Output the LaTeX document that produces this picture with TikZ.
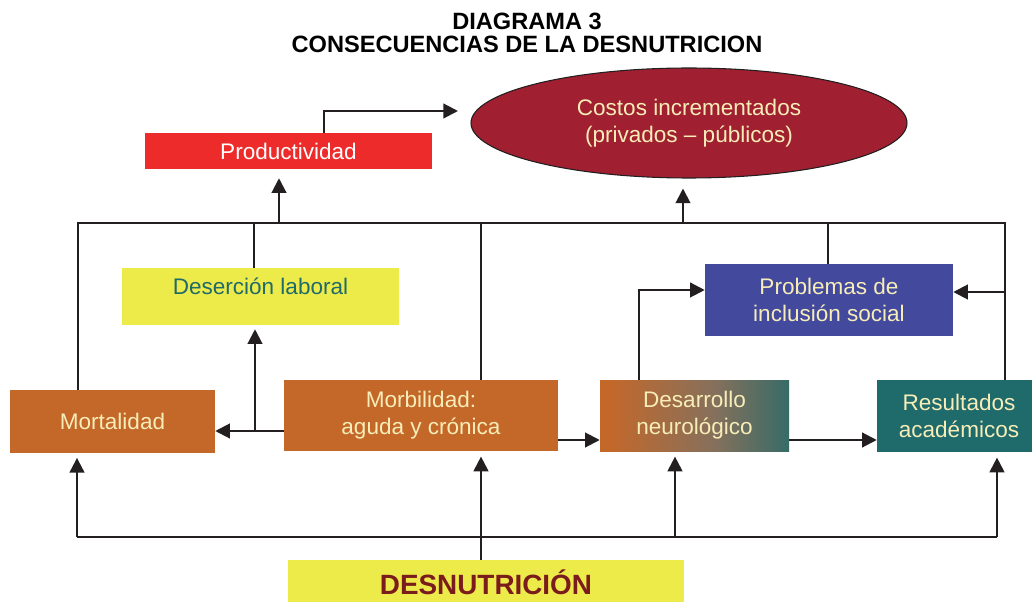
\documentclass[tikz,border=0pt]{standalone}
\usepackage{fontspec}
\setmainfont{Liberation Sans}
\usetikzlibrary{arrows.meta,shapes.geometric}
\definecolor{orangeC}{HTML}{C4682A}
\definecolor{tealC}{HTML}{1F6A6A}
\definecolor{blueC}{HTML}{434A9E}
\definecolor{redC}{HTML}{EE2B2B}
\definecolor{wineC}{HTML}{A01F30}
\definecolor{yellowC}{HTML}{EDEB4A}
\definecolor{creamC}{HTML}{F7EDB8}
\definecolor{desnC}{HTML}{7A1C1C}
\definecolor{lineC}{HTML}{231F20}
\definecolor{midC}{HTML}{86705C}
\pgfdeclarehorizontalshading{desgrad}{100bp}{color(0bp)=(orangeC); color(27bp)=(orangeC); color(55bp)=(midC); color(81bp)=(tealC); color(100bp)=(tealC)}
\tikzset{
  box/.style={rectangle, inner sep=0pt, draw=none, align=center, text=creamC,
    font=\fontsize{16.9}{20.3}\selectfont},
  arr/.style={draw=lineC, line width=1.6pt, -{Triangle[length=11pt,width=11pt]}},
  ln/.style={draw=lineC, line width=1.6pt},
}
\begin{document}
\begin{tikzpicture}[x=0.75pt,y=-0.75pt]
\useasboundingbox (0,0) rectangle (1032,602);
% title
\node[align=center, font=\fontsize{17.7}{16.8}\selectfont\bfseries] (title) at (527,33)
  {DIAGRAMA 3\\CONSECUENCIAS DE LA DESNUTRICION};
% boxes
\node[box, fill=redC, text=white, minimum width=287*0.75pt, minimum height=36*0.75pt] (prod) at (288.5,151) {Productividad};
\node[ellipse, draw=lineC, line width=0.8pt, fill=wineC, inner sep=0pt, align=center, text=creamC,
  font=\fontsize{16.9}{20.3}\selectfont, minimum width=436*0.75pt, minimum height=110*0.75pt] (cost) at (689,123)
  {Costos incrementados\\(privados – públicos)};
\node[box, fill=yellowC, minimum width=277*0.75pt, minimum height=57*0.75pt] (des) at (260.5,296.5) {};
\node[anchor=base, text=tealC, font=\fontsize{16.9}{20.3}\selectfont] (destext) at (260.5,295) {Deserción laboral};
\node[box, fill=blueC, minimum width=248*0.75pt, minimum height=72*0.75pt] (prob) at (829,300) {Problemas de\\inclusión social};
\node[box, fill=orangeC, minimum width=205*0.75pt, minimum height=63*0.75pt] (mort) at (112.5,421.5) {Mortalidad};
\node[box, fill=orangeC, minimum width=274*0.75pt, minimum height=71*0.75pt] (morb) at (421,415.5) {Morbilidad:\\aguda y crónica};
\node[box, shading=desgrad, minimum width=189*0.75pt, minimum height=71*0.75pt] (desa) at (694.5,415.5) {Desarrollo\\neurológico};
\node[box, fill=tealC, minimum width=164*0.75pt, minimum height=72*0.75pt] (res) at (959,416) {Resultados\\académicos};
\node[box, fill=yellowC, text=desnC, font=\fontsize{20.9}{24}\selectfont\bfseries, minimum width=396*0.75pt, minimum height=44*0.75pt] (desn) at (486,582) {DESNUTRICIÓN};
% connectors
\coordinate (busL) at (78,223);
\coordinate (busR) at (1005,223);
\coordinate (ctip) at (458,111);
\draw[arr] (324,0 |- prod.north) |- (ctip);
\draw[ln] (mort.north -| busL) -- (busL) -- (busR) -- (res.north -| busR);
\draw[arr, shorten >=6.75pt] (279,223) -- (279,0 |- prod.south);
\draw[ln] (254,0 |- des.north) -- (254,223);
\draw[ln] (481,0 |- morb.north) -- (481,223);
\draw[arr, shorten >=7.5pt] (683,223) -- (683,0 |- cost.south);
\draw[ln] (828,0 |- prob.north) -- (828,223);
\draw[arr] (1005,292) -- (prob.east |- 0,292);
\draw[arr] (639,0 |- desa.north) |- (prob.west |- 0,290);
\draw[arr] (morb.west |- 0,431) -- (mort.east |- 0,431);
\draw[arr, shorten >=3pt] (255,431) -- (255,0 |- des.south);
\draw[arr] (morb.east |- 0,440) -- (desa.west |- 0,440);
\draw[arr] (desa.east |- 0,440) -- (res.west |- 0,440);
\coordinate (bl) at (77,537);
\coordinate (br) at (997,537);
\draw[ln] (bl) -- (br);
\draw[arr, shorten >=3.5pt] (bl) -- (mort.south -| bl);
\draw[arr, shorten >=4pt] (481,0 |- desn.north) -- (481,0 |- morb.south);
\draw[arr, shorten >=4pt] (675,537) -- (675,0 |- desa.south);
\draw[arr, shorten >=4pt] (br) -- (res.south -| br);
\end{tikzpicture}
\end{document}
